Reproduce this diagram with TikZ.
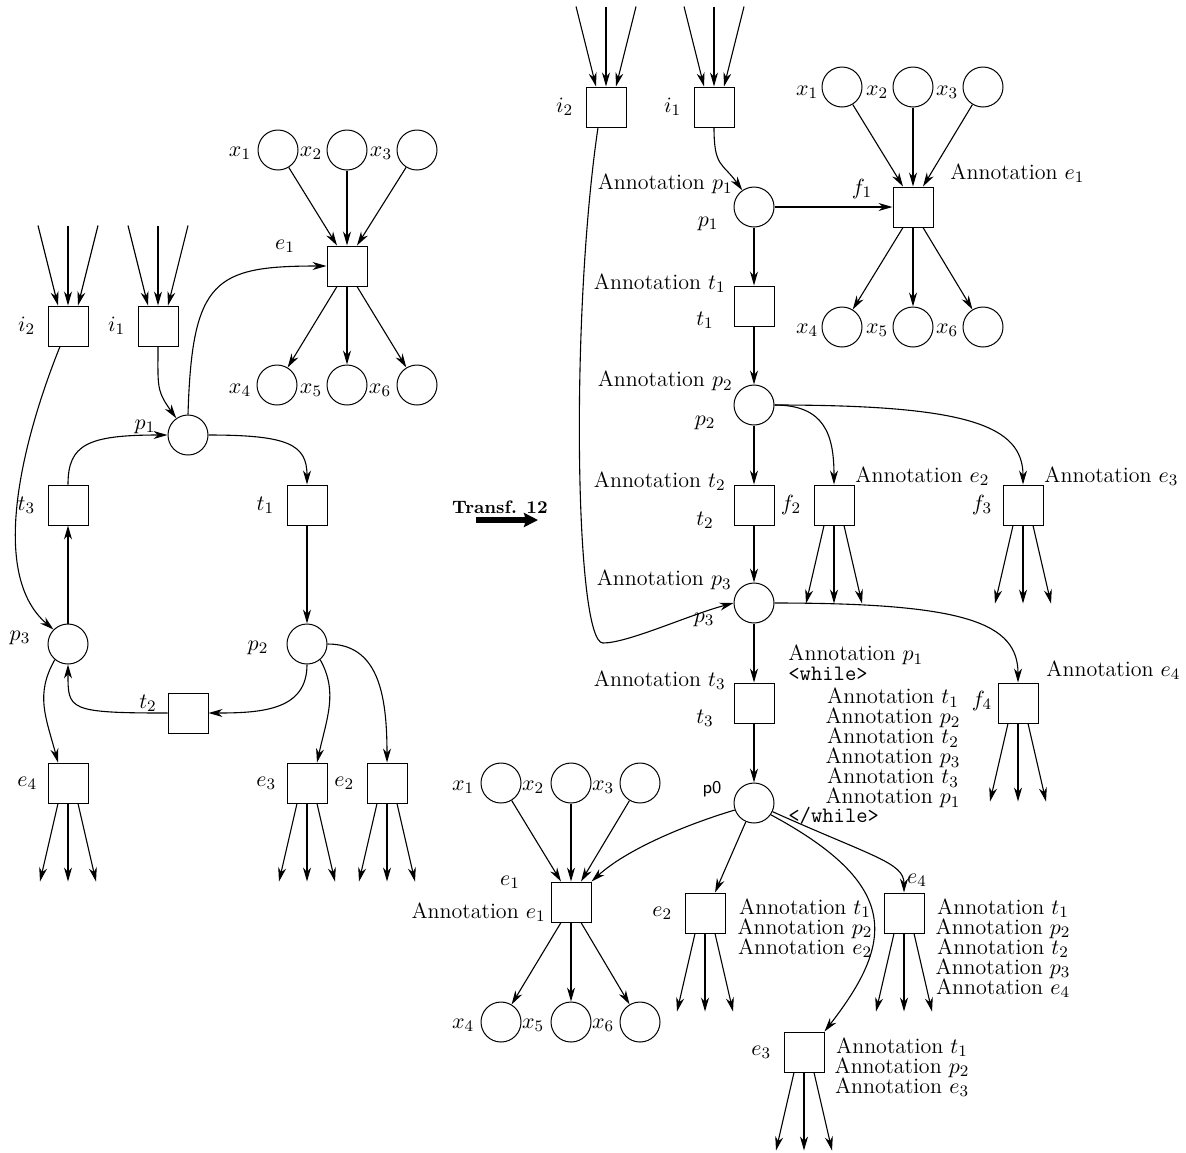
\documentclass[tikz,border=0pt]{standalone}
\usepackage{tikz}
\usetikzlibrary{arrows.meta,positioning,calc}

\begin{document}
\begin{tikzpicture}[x=0.5pt, y=-0.5pt, font=\fontsize{11}{12}\selectfont,
  place/.style={circle, draw, line width=0.5pt, minimum size=20pt, inner sep=0pt},
  trans/.style={rectangle, draw, line width=0.5pt, minimum size=20pt, inner sep=0pt},
  arc/.style={-{Stealth[length=7pt,width=4pt,inset=2.2pt]}, line width=0.55pt},
  lbl/.style={inner sep=1pt},
  ann/.style={inner sep=1pt, align=center, font=\fontsize{11}{10}\selectfont}]
\useasboundingbox (0,0) rectangle (1186,1152);

% left net
\node[trans] (li2) at (68,326) {};
\node[trans] (li1) at (158,326) {};
\node[trans] (le1) at (347,266) {};
\node[place] (lx1) at (278,150) {};
\node[place] (lx2) at (347,150) {};
\node[place] (lx3) at (417,150) {};
\node[place] (lx4) at (277,385) {};
\node[place] (lx5) at (347,385) {};
\node[place] (lx6) at (417,385) {};
\node[place] (lp1) at (188,435) {};
\node[trans] (lt3) at (68,505) {};
\node[trans] (lt1) at (307,505) {};
\node[place] (lp3) at (68,644) {};
\node[place] (lp2) at (307,644) {};
\node[trans] (lt2) at (188,713) {};
\node[trans] (le4) at (68,783) {};
\node[trans] (le3) at (307,783) {};
\node[trans] (le2) at (387,783) {};

\node[lbl, left=5pt of li2] (li2-l) {$i_2$};
\node[lbl, left=5pt of li1] (li1-l) {$i_1$};
\node[lbl] (le1-l) at (285,246) {$e_1$};
\node[lbl] (lx1-l) at (240,153) {$x_1$};
\node[lbl] (lx2-l) at (311,153) {$x_2$};
\node[lbl] (lx3-l) at (381,153) {$x_3$};
\node[lbl] (lx4-l) at (240,390) {$x_4$};
\node[lbl] (lx5-l) at (311,390) {$x_5$};
\node[lbl] (lx6-l) at (380,390) {$x_6$};
\node[lbl] (lp1-l) at (145,427) {$p_1$};
\node[lbl, left=5pt of lt3] (lt3-l) {$t_3$};
\node[lbl, left=5pt of lt1] (lt1-l) {$t_1$};
\node[lbl] (lp3-l) at (20,638) {$p_3$};
\node[lbl] (lp2-l) at (258,648) {$p_2$};
\node[lbl] (lt2-l) at (148,703) {$t_2$};
\node[lbl, left=4pt of le4] (le4-l) {$e_4$};
\node[lbl, left=4pt of le3] (le3-l) {$e_3$};
\node[lbl, left=5pt of le2] (le2-l) {$e_2$};

\draw[arc] (lx1) -- ([xshift=-5pt]le1.north);
\draw[arc] (lx2) -- (le1.north);
\draw[arc] (lx3) -- ([xshift=5pt]le1.north);
\draw[arc] ([xshift=-5pt]le1.south) -- (lx4);
\draw[arc] (le1.south) -- (lx5);
\draw[arc] ([xshift=5pt]le1.south) -- (lx6);
\draw[arc] (li1.south) .. controls +(0,40) and +(-20,-28) .. (lp1.125);
\draw[arc] (lp1.north) .. controls +(4,-135) and +(-112,0) .. (le1.west);
\draw[arc] (lp1.east) .. controls +(80,0) and +(0,-40) .. (lt1.north);
\draw[arc] (lt3.north) .. controls +(0,-40) and +(-80,0) .. (lp1.west);
\draw[arc] ([xshift=-4pt]li2.south) .. controls +(-33,82) and +(-68,-58) .. (lp3.135);
\draw[arc] (lt1) -- (lp2);
\draw[arc] (lp3) -- (lt3);
\draw[arc] (lp2.south) .. controls +(0,45) and +(55,0) .. (lt2.east);
\draw[arc] (lt2.west) .. controls +(-100,0) and +(0,45) .. (lp3.south);
\draw[arc] (lp3.-130) .. controls +(-20,35) and +(-12,-45) .. ([xshift=-5pt]le4.north);
\draw[arc] (lp2.-50) .. controls +(18,32) and +(10,-45) .. ([xshift=5pt]le3.north);
\draw[arc] (lp2.east) .. controls +(50,0) and +(0,-70) .. (le2.north);

% transformation arrow
\node[lbl, font=\fontsize{9}{10}\selectfont\bfseries] (tf) at (500,507) {Transf. 12};
\coordinate (tf-a) at (476,520);
\coordinate (tf-b) at (538,520);
\draw[line width=3pt, -{Stealth[length=7pt,width=7pt,inset=1pt]}] (tf-a) -- (tf-b);

% right net
\node[trans] (ri2) at (606,107) {};
\node[trans] (ri1) at (714,107) {};
\node[place] (rp1) at (754,207) {};
\node[trans] (rf1) at (913,207) {};
\node[place] (rfx1) at (842,87) {};
\node[place] (rfx2) at (913,87) {};
\node[place] (rfx3) at (983,87) {};
\node[place] (rfx4) at (842,327) {};
\node[place] (rfx5) at (913,327) {};
\node[place] (rfx6) at (983,327) {};
\node[trans] (rt1) at (754,306) {};
\node[place] (rp2) at (754,405) {};
\node[trans] (rt2) at (754,505) {};
\node[trans] (rf2) at (834,505) {};
\node[trans] (rf3) at (1023,505) {};
\node[place] (rp3) at (754,603) {};
\node[trans] (rt3) at (754,703) {};
\node[trans] (rf4) at (1018,703) {};
\node[place] (rp0) at (754,803) {};
\node[trans] (re1) at (571,902) {};
\node[place] (rex1) at (501,783) {};
\node[place] (rex2) at (571,783) {};
\node[place] (rex3) at (640,783) {};
\node[place] (rex4) at (501,1022) {};
\node[place] (rex5) at (571,1022) {};
\node[place] (rex6) at (640,1022) {};
\node[trans] (re2) at (705,913) {};
\node[trans] (re4) at (904,913) {};
\node[trans] (re3) at (804,1052) {};

\node[lbl, left=5pt of ri2] (ri2-l) {$i_2$};
\node[lbl, left=5pt of ri1] (ri1-l) {$i_1$};
\node[lbl, anchor=east] (rp1-a) at (735,184) {Annotation $p_1$};
\node[lbl] (rp1-l) at (708,224) {$p_1$};
\node[lbl] (rf1-l) at (862,189) {$f_1$};
\node[lbl, anchor=west] (rf1-a) at (948,173) {Annotation $e_1$};
\node[lbl] (rfx1-l) at (807,92) {$x_1$};
\node[lbl] (rfx2-l) at (877,92) {$x_2$};
\node[lbl] (rfx3-l) at (947,92) {$x_3$};
\node[lbl] (rfx4-l) at (807,330) {$x_4$};
\node[lbl] (rfx5-l) at (877,330) {$x_5$};
\node[lbl] (rfx6-l) at (947,330) {$x_6$};
\node[lbl, anchor=east] (rt1-a) at (728,283) {Annotation $t_1$};
\node[lbl] (rt1-l) at (705,320) {$t_1$};
\node[lbl, anchor=east] (rp2-a) at (735,381) {Annotation $p_2$};
\node[lbl] (rp2-l) at (705,423) {$p_2$};
\node[lbl, anchor=east] (rt2-a) at (728,481) {Annotation $t_2$};
\node[lbl] (rt2-l) at (705,520) {$t_2$};
\node[lbl, left=5pt of rf2] (rf2-l) {$f_2$};
\node[lbl, anchor=west] (rf2-a) at (853,476) {Annotation $e_2$};
\node[lbl, left=4pt of rf3] (rf3-l) {$f_3$};
\node[lbl, anchor=west] (rf3-a) at (1042,476) {Annotation $e_3$};
\node[lbl, anchor=east] (rp3-a) at (734,580) {Annotation $p_3$};
\node[lbl] (rp3-l) at (704,620) {$p_3$};
\node[lbl, anchor=east] (rt3-a) at (728,680) {Annotation $t_3$};
\node[lbl] (rt3-l) at (705,718) {$t_3$};
\node[lbl] (rf4-l) at (982,701) {$f_4$};
\node[lbl, anchor=west] (rf4-a) at (1044,670) {Annotation $e_4$};
\node[lbl, anchor=west] (w-p1) at (786,655) {Annotation $p_1$};
\node[lbl, anchor=west] (w-open) at (786,674) {\texttt{<while>}};
\node[ann] (w-body) at (893,748) {Annotation $t_1$\\ Annotation $p_2$\\ Annotation $t_2$\\
  Annotation $p_3$\\ Annotation $t_3$\\ Annotation $p_1$};
\node[lbl, anchor=west] (w-close) at (786,816) {\texttt{</while>}};
\node[lbl, font=\sffamily\fontsize{9}{10}\selectfont] (rp0-l) at (712,789) {p0};
\node[lbl] (re1-l) at (510,882) {$e_1$};
\node[lbl, anchor=east] (re1-a) at (548,912) {Annotation $e_1$};
\node[lbl] (rex1-l) at (463,787) {$x_1$};
\node[lbl] (rex2-l) at (533,787) {$x_2$};
\node[lbl] (rex3-l) at (603,787) {$x_3$};
\node[lbl] (rex4-l) at (463,1025) {$x_4$};
\node[lbl] (rex5-l) at (533,1025) {$x_5$};
\node[lbl] (rex6-l) at (603,1025) {$x_6$};
\node[lbl, left=5pt of re2] (re2-l) {$e_2$};
\node[ann] (re2-a) at (805,928) {Annotation $t_1$\\ Annotation $p_2$\\ Annotation $e_2$};
\node[lbl] (re4-l) at (917,880) {$e_4$};
\node[ann] (re4-a) at (1003,948) {Annotation $t_1$\\ Annotation $p_2$\\ Annotation $t_2$\\
  Annotation $p_3$\\ Annotation $e_4$};
\node[lbl, left=5pt of re3] (re3-l) {$e_3$};
\node[ann] (re3-a) at (902,1067) {Annotation $t_1$\\ Annotation $p_2$\\ Annotation $e_3$};

\draw[arc] (ri1.south) .. controls +(0,40) and +(-20,-28) .. (rp1.125);
\draw[arc] (rp1) -- (rf1);
\draw[arc] (rfx1) -- ([xshift=-5pt]rf1.north);
\draw[arc] (rfx2) -- (rf1.north);
\draw[arc] (rfx3) -- ([xshift=5pt]rf1.north);
\draw[arc] ([xshift=-5pt]rf1.south) -- (rfx4);
\draw[arc] (rf1.south) -- (rfx5);
\draw[arc] ([xshift=5pt]rf1.south) -- (rfx6);
\draw[arc] (rp1) -- (rt1);
\draw[arc] (rt1) -- (rp2);
\draw[arc] (rp2) -- (rt2);
\draw[arc] (rt2) -- (rp3);
\draw[arc] (rp3) -- (rt3);
\draw[arc] (rt3) -- (rp0);
\draw[arc] (rp2.east) .. controls +(50,0) and +(0,-50) .. (rf2.north);
\draw[arc] (rp2.east) .. controls +(190,0) and +(0,-60) .. (rf3.north);
\draw[arc] (rp3.east) .. controls +(190,0) and +(0,-60) .. (rf4.north);
\coordinate (ri2-bend) at (603,643);
\draw[arc] ([xshift=-4pt]ri2.south) .. controls +(-28,190) and +(-28,0) .. (ri2-bend)
  .. controls +(25,0) and +(-45,12) .. (rp3.west);
\draw[arc] (rp0.200) .. controls +(-50,15) and +(35,-32) .. (re1.north east);
\draw[arc] (rp0) -- ([xshift=5pt]re2.north);
\draw[arc] (rp0.-25) .. controls +(100,45) and +(0,-30) .. (re4.north);
\draw[arc] (rp0.-35) .. controls +(130,70) and +(70,-90) .. (re3.north east);
\draw[arc] (rex1) -- ([xshift=-5pt]re1.north);
\draw[arc] (rex2) -- (re1.north);
\draw[arc] (rex3) -- ([xshift=5pt]re1.north);
\draw[arc] ([xshift=-5pt]re1.south) -- (rex4);
\draw[arc] (re1.south) -- (rex5);
\draw[arc] ([xshift=5pt]re1.south) -- (rex6);

% incoming and outgoing fans
\foreach \n in {li2,li1,ri2,ri1} {
  \coordinate (\n-a) at ($(\n.north)+(-30,-80)$);
  \coordinate (\n-b) at ($(\n.north)+(0,-80)$);
  \coordinate (\n-c) at ($(\n.north)+(30,-80)$);
  \draw[arc] (\n-a) -- ([xshift=-5pt]\n.north);
  \draw[arc] (\n-b) -- (\n.north);
  \draw[arc] (\n-c) -- ([xshift=5pt]\n.north);
}
\foreach \n in {le4,le3,le2,rf2,rf3,rf4,re2,re3,re4} {
  \coordinate (\n-a) at ($(\n.south)+(-28,78)$);
  \coordinate (\n-b) at ($(\n.south)+(0,78)$);
  \coordinate (\n-c) at ($(\n.south)+(28,78)$);
  \draw[arc] ([xshift=-5pt]\n.south) -- (\n-a);
  \draw[arc] (\n.south) -- (\n-b);
  \draw[arc] ([xshift=5pt]\n.south) -- (\n-c);
}
\end{tikzpicture}
\end{document}
